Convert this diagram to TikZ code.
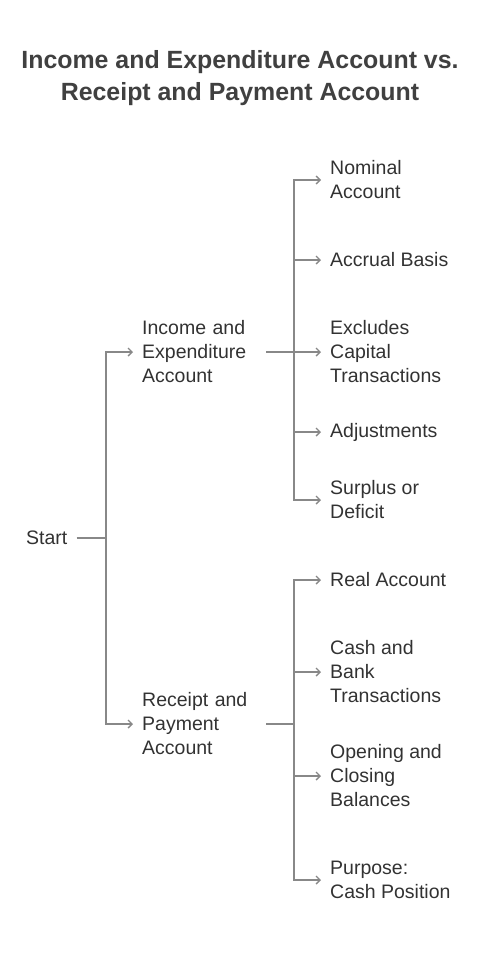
\documentclass[tikz,border=0pt]{standalone}
\usepackage{fontspec}
\setmainfont{Liberation Sans}
\usepackage{xcolor}
\usetikzlibrary{arrows.meta}

\definecolor{txtgray}{RGB}{50,50,50}
\definecolor{titlegray}{RGB}{64,64,64}
\definecolor{linegray}{RGB}{136,136,136}

\begin{document}
\begin{tikzpicture}[
    x=1pt, y=-1pt,
    every node/.style={anchor=west, align=left, inner xsep=9pt, inner ysep=0pt,
        text=txtgray, font=\fontsize{19.5}{24}\selectfont},
    branch/.style={text width=115pt},
    link/.style={draw=linegray, line width=1.4pt},
    >={Straight Barb[length=4pt,width=8pt]}
]
\useasboundingbox (0,0) rectangle (484,964);

% Title
\node[anchor=center, align=center, text=titlegray,
      font=\fontsize{24.9}{32}\selectfont\bfseries] (title) at (240,78)
    {Income and Expenditure Account vs.\\Receipt and Payment Account};

% Nodes
\node (start) at (17,538) {Start};
\node[branch] (ie) at (133,352) {Income and\\Expenditure\\Account};
\node[branch] (rp) at (133,724) {Receipt and\\Payment\\Account};

\node (nom) at (321,180) {Nominal\\Account};
\node (acc) at (321,260) {Accrual Basis};
\node (exc) at (321,352) {Excludes\\Capital\\Transactions};
\node (adj) at (321,432) {Adjustments};
\node (sur) at (321,500) {Surplus or\\Deficit};

\node (rea) at (321,580) {Real Account};
\node (cab) at (321,672) {Cash and\\Bank\\Transactions};
\node (ocb) at (321,776) {Opening and\\Closing\\Balances};
\node (pur) at (321,880) {Purpose:\\Cash Position};

% Junctions
\coordinate (js) at (106,538);
\coordinate (jie) at (294,352);
\coordinate (jrp) at (294,724);

% Edges
\draw[link] (start.east) -- (js);
\draw[link,->] (js) |- (ie.west);
\draw[link,->] (js) |- (rp.west);

\draw[link] (ie.east) -- (jie);
\draw[link,->] (jie) |- (nom.west);
\draw[link,->] (jie) |- (acc.west);
\draw[link,->] (jie) -- (exc.west);
\draw[link,->] (jie) |- (adj.west);
\draw[link,->] (jie) |- (sur.west);

\draw[link] (rp.east) -- (jrp);
\draw[link,->] (jrp) |- (rea.west);
\draw[link,->] (jrp) |- (cab.west);
\draw[link,->] (jrp) |- (ocb.west);
\draw[link,->] (jrp) |- (pur.west);

\end{tikzpicture}
\end{document}
